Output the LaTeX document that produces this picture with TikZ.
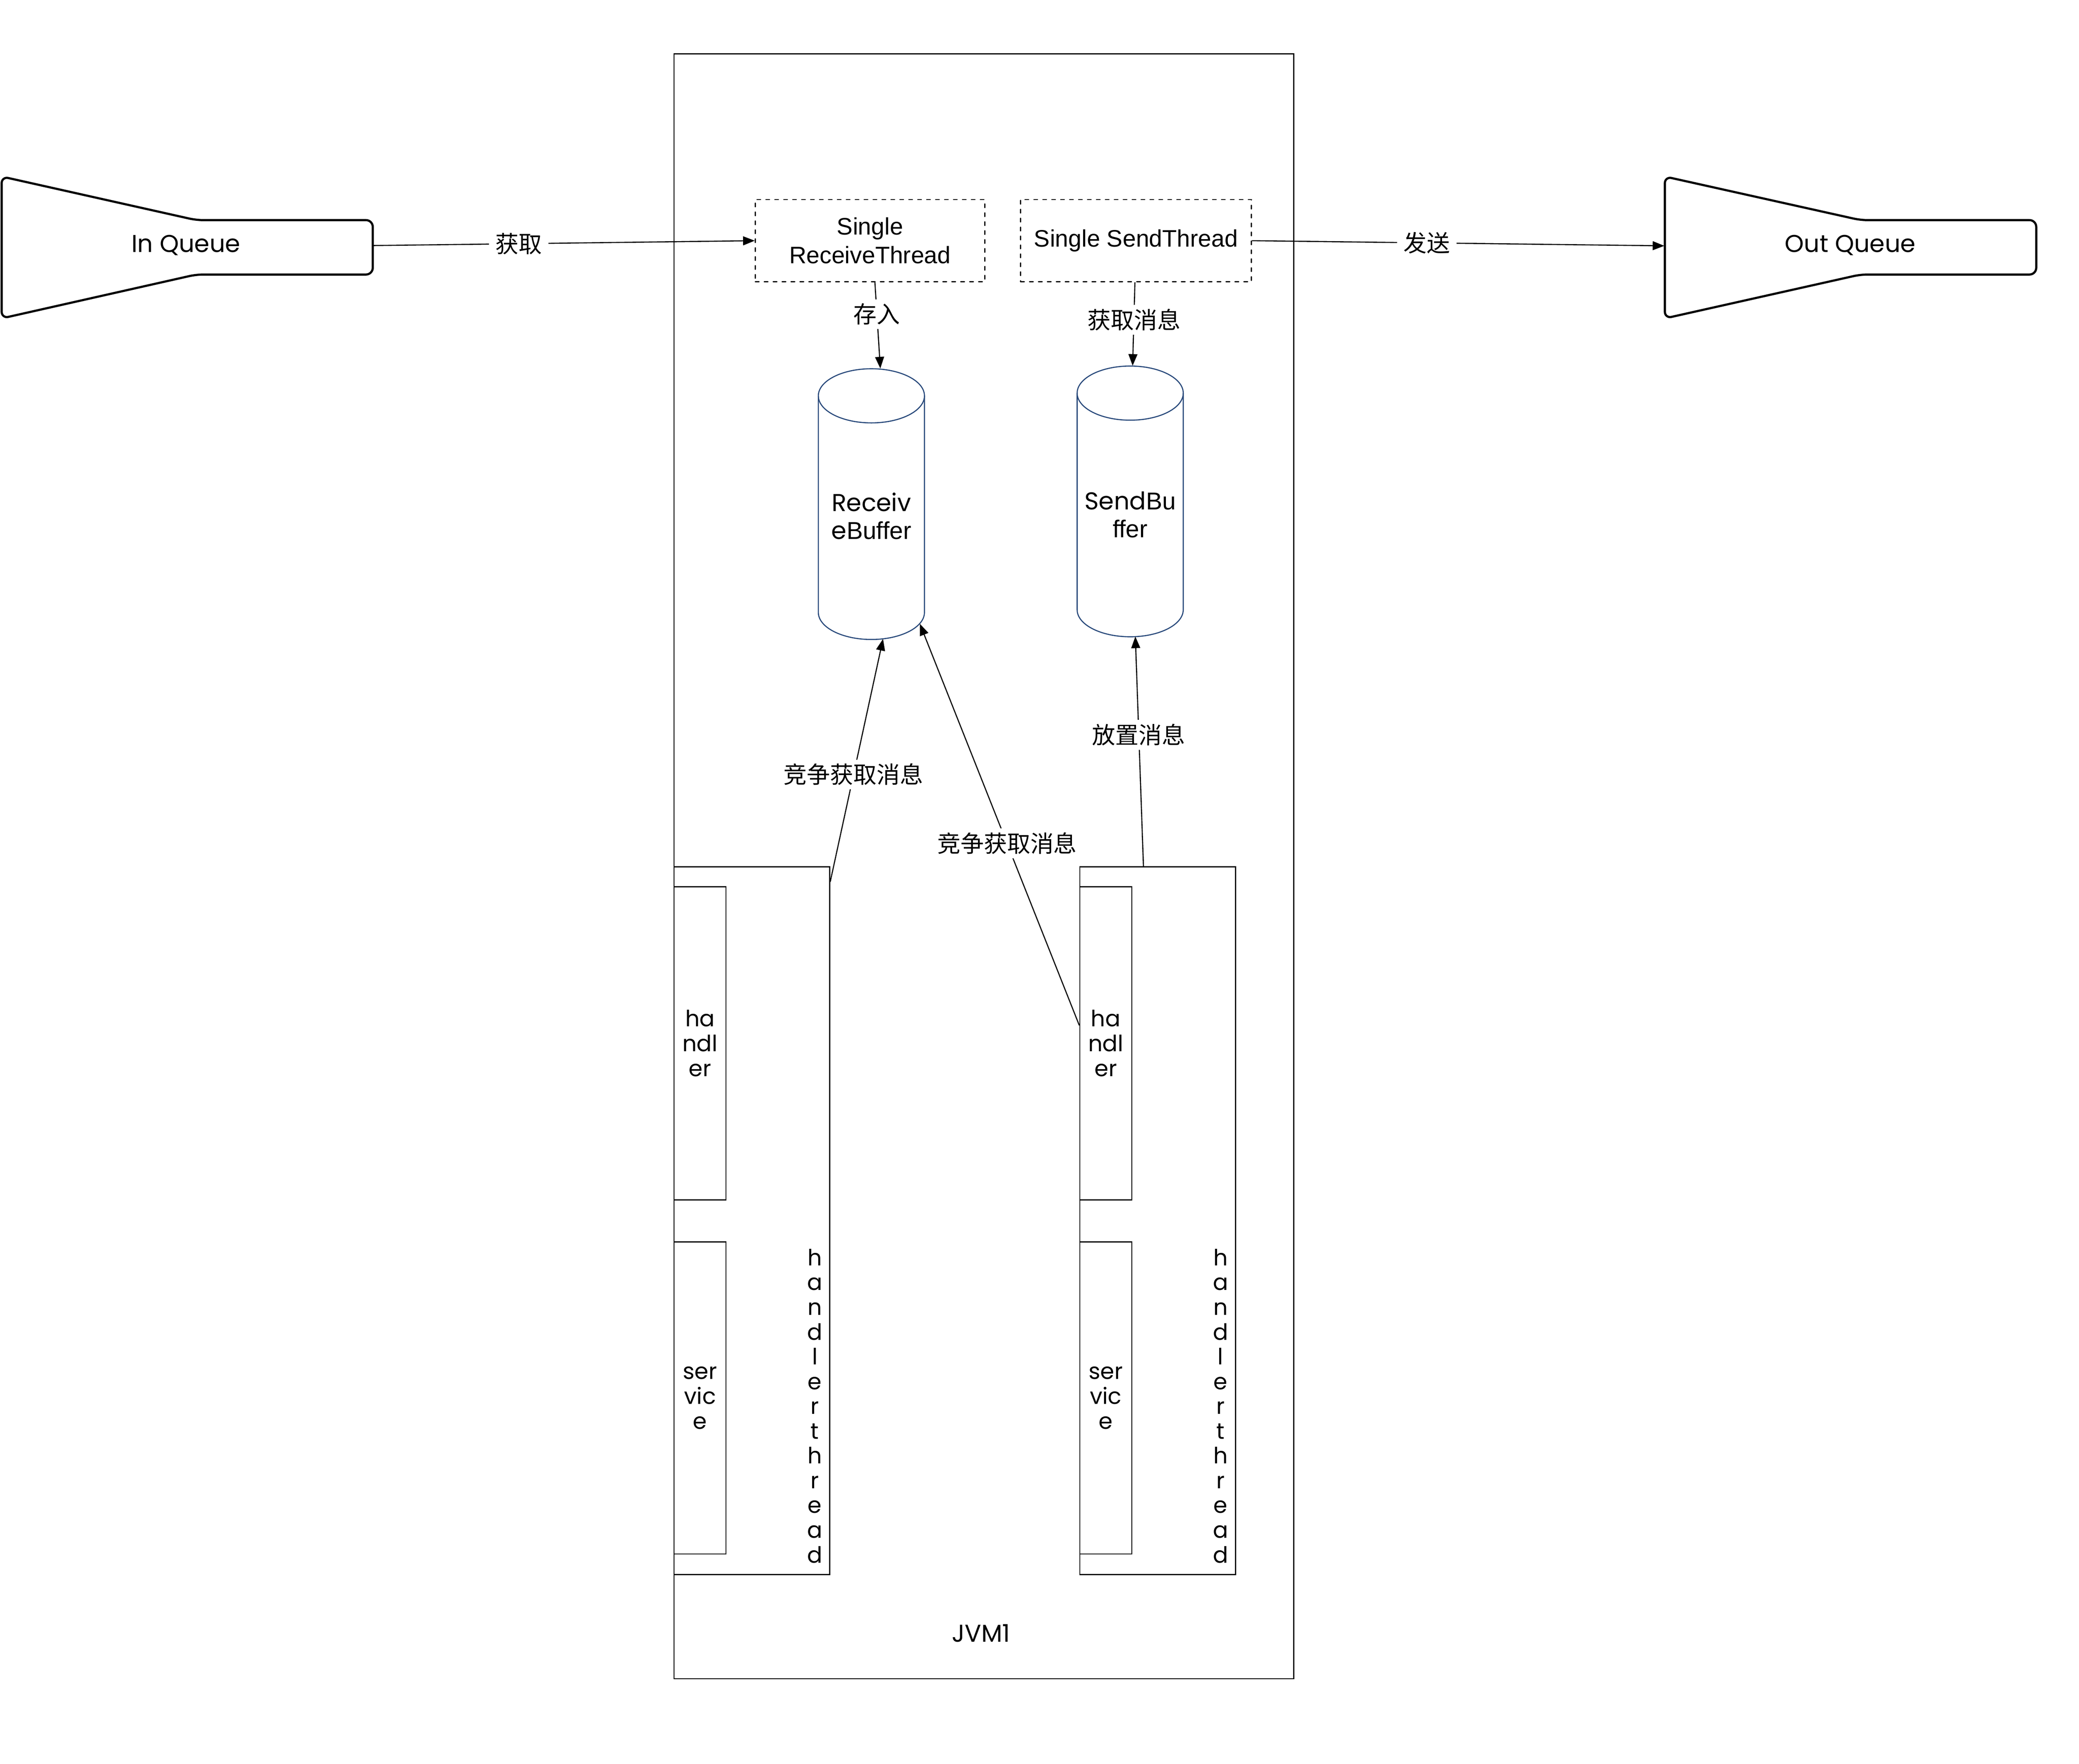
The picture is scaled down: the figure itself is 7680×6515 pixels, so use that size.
\documentclass[tikz,border=0pt]{standalone}
\usepackage{fontspec}
\setmainfont{Liberation Sans}
\newfontfamily\cjkf{Noto Sans CJK SC}
\newfontfamily\geof{Poppins}
\newfontfamily\helvf{Liberation Sans}
\usetikzlibrary{arrows.meta,calc}
\definecolor{cylblue}{HTML}{27487A}
\begin{document}
\begin{tikzpicture}[x=0.1pt,y=-0.1pt,
  plainbox/.style={draw, line width=0.4pt, inner sep=0pt, anchor=north west},
  threadbox/.style={draw, line width=0.4pt, dash pattern=on 1.4pt off 1.9pt, line cap=round,
     inner sep=0pt, anchor=north west, minimum height=30.4pt, align=center,
     font=\helvf\fontsize{8.8pt}{10.6pt}\selectfont},
  queue/.style={draw, line width=0.8pt, rounded corners=2.5pt, line join=round},
  cyl/.style={draw=cylblue, line width=0.4pt},
  conn/.style={line width=0.4pt, -{Triangle[length=4.3pt,width=3.3pt]}},
  lbl/.style={fill=white, inner xsep=2.4pt, inner ysep=1.5pt, font=\cjkf\fontsize{8.6pt}{10pt}\selectfont},
  geotext/.style={inner sep=0pt, font=\geof\fontsize{9pt}{10.3pt}\selectfont, align=center},
  smalltext/.style={inner sep=0pt, font=\geof\fontsize{8.3pt}{9.2pt}\selectfont, align=center},
  vtext/.style={inner sep=0pt, font=\geof\fontsize{8.3pt}{9.15pt}\selectfont, align=center, anchor=north}]
\useasboundingbox (0,0) rectangle (7680,6515);

% JVM container
\node[plainbox, minimum width=228.9pt, minimum height=600.2pt] (jvm) at (2488,197) {};
\node[geotext] (jvmlbl) at (3624,6033) {JVM1};

% Queues
\draw[queue] (6,914) -- (6,652) -- (725,813) -- (1377,813) -- (1377,1014) -- (725,1014) -- (6,1176) -- cycle;
\node[geotext] (inq) at (687,906) {In Queue};
\draw[queue] (6150,914) -- (6150,652) -- (6873,813) -- (7522,813) -- (7522,1014) -- (6873,1014) -- (6150,1176) -- cycle;
\node[geotext] (outq) at (6835,906) {Out Queue};
\coordinate (inqR) at (1377,907);
\coordinate (outqL) at (6148,908);

% Thread boxes
\node[threadbox, minimum width=84.8pt] (rthr) at (2788,735) {Single\\ReceiveThread};
\node[threadbox, minimum width=85.3pt] (sthr) at (3768,735) {Single SendThread};

% Cylinders
\draw[cyl] (3023,1462) -- (3023,2262) arc[start angle=180, end angle=360, x radius=19.6pt, y radius=10pt] -- (3415,1462);
\draw[cyl] (3219,1462) ellipse[x radius=19.6pt, y radius=10pt];
\node[geotext] (rbuf) at (3219,1906) {Receiv\\e{\helvf Buffer}};
\draw[cyl] (3979,1452) -- (3979,2252) arc[start angle=180, end angle=360, x radius=19.6pt, y radius=10pt] -- (4371,1452);
\draw[cyl] (4175,1452) ellipse[x radius=19.6pt, y radius=10pt];
\node[geotext] (sbuf) at (4175,1901) {Send{\helvf Bu}\\{\helvf ffer}};
\coordinate (rbufTop) at (3252,1361);
\coordinate (sbufTop) at (4184,1351);
\coordinate (rbufBotA) at (3262,2360);
\coordinate (rbufBotB) at (3398,2304);
\coordinate (sbufBot) at (4194,2351);

% Handler thread boxes
\node[plainbox, minimum width=57.5pt, minimum height=261.4pt] (htL) at (2488,3200) {};
\node[plainbox, minimum width=19.2pt, minimum height=115.7pt] (hdL) at (2488,3273) {};
\node[smalltext] (hdLt) at (hdL.center) {ha\\ndl\\er};
\node[plainbox, minimum width=19.2pt, minimum height=115.3pt] (svL) at (2488,4585) {};
\node[smalltext] (svLt) at (svL.center) {ser\\vic\\e};
\node[vtext] (vtL) at (3010,4611) {h\\a\\n\\d\\l\\e\\r\\t\\h\\r\\e\\a\\d};

\node[plainbox, minimum width=57.5pt, minimum height=261.4pt] (htR) at (3987,3200) {};
\node[plainbox, minimum width=19.2pt, minimum height=115.7pt] (hdR) at (3987,3273) {};
\node[smalltext] (hdRt) at (hdR.center) {ha\\ndl\\er};
\node[plainbox, minimum width=19.2pt, minimum height=115.3pt] (svR) at (3987,4585) {};
\node[smalltext] (svRt) at (svR.center) {ser\\vic\\e};
\node[vtext] (vtR) at (4509,4611) {h\\a\\n\\d\\l\\e\\r\\t\\h\\r\\e\\a\\d};

% Connectors
\draw[conn] (inqR) -- node[lbl, pos=0.382] {获取} (rthr.west);
\draw[conn] (sthr.east) -- node[lbl, pos=0.424] {发送} (outqL);
\draw[conn] ($(rthr.south)+(18,0)$) -- node[lbl, pos=0.367] {存入} (rbufTop);
\draw[conn] ($(sthr.south)+(-4,0)$) -- node[lbl, pos=0.448] {获取消息} (sbufTop);
\draw[conn] ($(htL.north east)+(0,57)$) -- node[lbl, pos=0.442] {竞争获取消息} (rbufBotA);
\draw[conn] ($(hdR.west)+(0,-66)$) -- node[lbl, pos=0.453] {竞争获取消息} (rbufBotB);
\draw[conn] ($(htR.north west)+(237,0)$) -- node[lbl, pos=0.572] {放置消息} (sbufBot);
\end{tikzpicture}
\end{document}
